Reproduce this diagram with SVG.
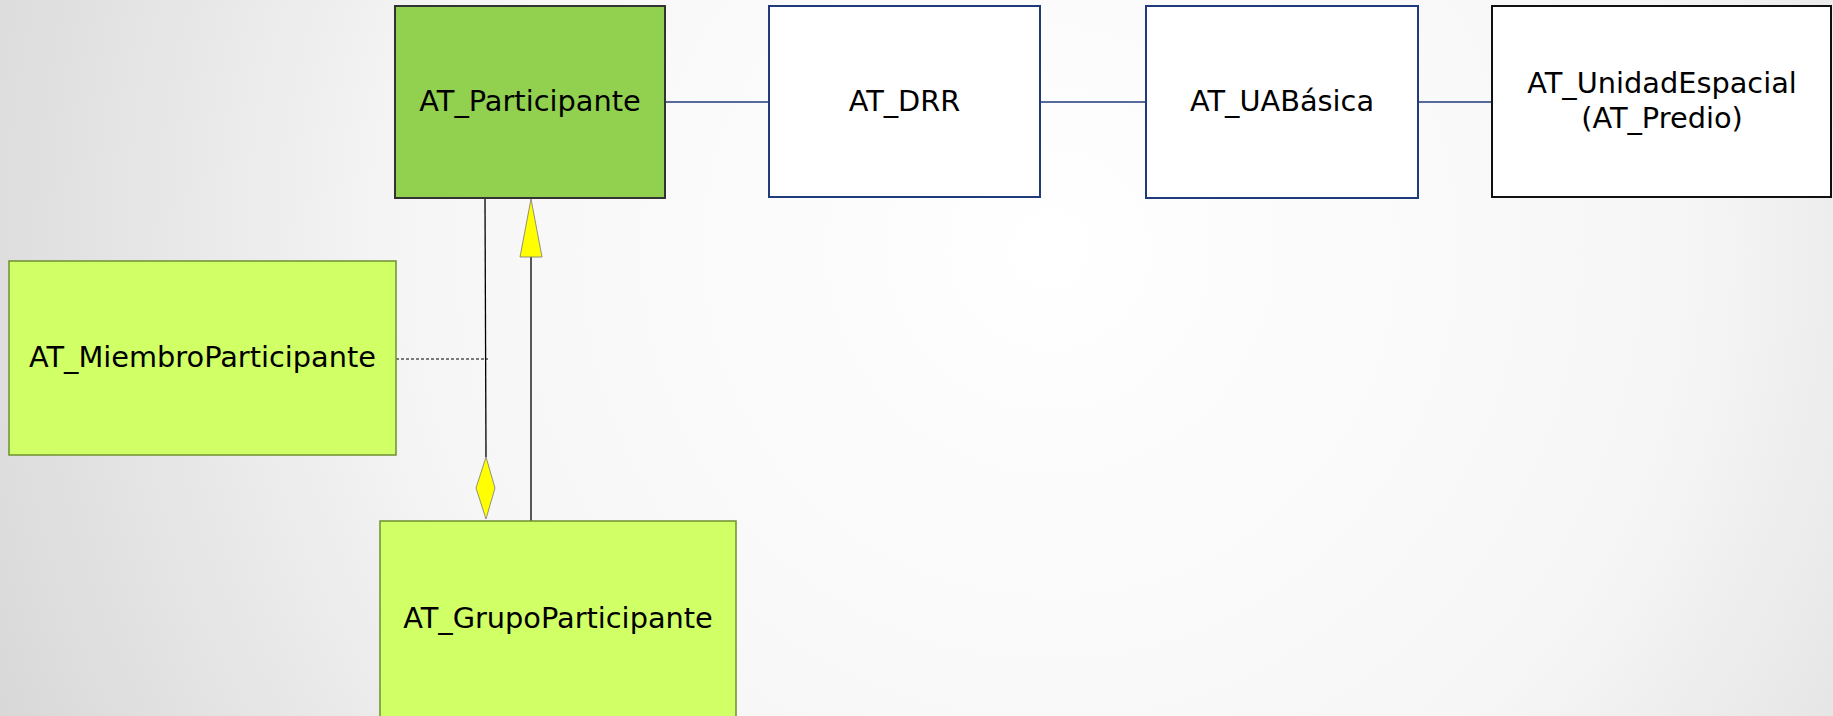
<svg xmlns="http://www.w3.org/2000/svg" width="1833" height="716" viewBox="0 0 1833 716">
<defs>
<radialGradient id="bg" cx="1050" cy="250" r="1150" gradientUnits="userSpaceOnUse">
<stop offset="0" stop-color="#ffffff"/>
<stop offset="0.55" stop-color="#f6f6f6"/>
<stop offset="1" stop-color="#d8d8d8"/>
</radialGradient>
<style>
text{font-family:"DejaVu Sans","Liberation Sans",sans-serif;font-size:28.8px;fill:#000;text-anchor:middle}
.navy{fill:#fff;stroke:#1f3b7a;stroke-width:2}
.lime{fill:#d0ff66;stroke:#6f8f2f;stroke-width:1.5}
.line{stroke:#000;stroke-width:1.3;fill:none}
.nline{stroke:#1f3b7a;stroke-width:1.5;fill:none}
.yel{fill:#ffff00;stroke:#777;stroke-width:0.8}
</style>
</defs>
<rect width="1833" height="716" fill="url(#bg)"/>
<g id="connectors">
<line class="nline" x1="665" y1="102" x2="769" y2="102"/>
<line class="nline" x1="1040" y1="102" x2="1146" y2="102"/>
<line class="nline" x1="1418" y1="102" x2="1492" y2="102"/>
<line class="line" x1="485" y1="198" x2="486" y2="457"/>
<polygon class="yel" points="486,457 495,488 486,519 476,488"/>
<line class="line" x1="531" y1="257" x2="531" y2="521"/>
<polygon class="yel" points="531,199 542,257 520,257"/>
<line x1="396" y1="359" x2="488" y2="359" stroke="#000" stroke-width="1" stroke-dasharray="3,2"/>
</g>
<g id="participante">
<rect x="395" y="6" width="270" height="192" fill="#92d050" stroke="#333" stroke-width="2"/>
<text x="530" y="111">AT_Participante</text>
</g>
<g id="drr">
<rect class="navy" x="769" y="6" width="271" height="191"/>
<text x="904.5" y="111">AT_DRR</text>
</g>
<g id="uabasica">
<rect class="navy" x="1146" y="6" width="272" height="192"/>
<text x="1282" y="111">AT_UABásica</text>
</g>
<g id="unidadespacial">
<rect x="1492" y="6" width="339" height="191" fill="#fff" stroke="#111" stroke-width="2"/>
<text x="1662" y="93">AT_UnidadEspacial</text>
<text x="1662" y="128">(AT_Predio)</text>
</g>
<g id="miembro">
<rect class="lime" x="9" y="261" width="387" height="194"/>
<text x="202.5" y="367">AT_MiembroParticipante</text>
</g>
<g id="grupo">
<rect class="lime" x="380" y="521" width="356" height="210"/>
<text x="558" y="628">AT_GrupoParticipante</text>
</g>
</svg>
